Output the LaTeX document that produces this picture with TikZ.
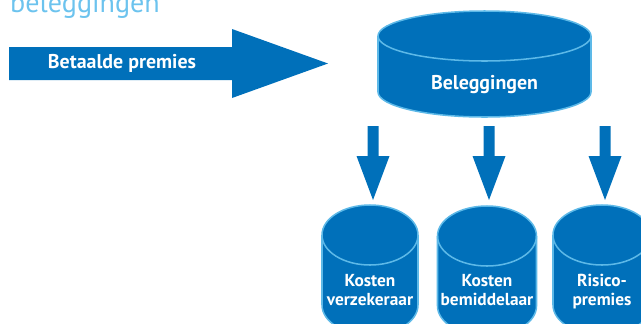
\documentclass[tikz,border=0pt]{standalone}
\usepackage{fontspec}
\setmainfont{PT Sans}
\definecolor{vatblauw}{HTML}{0070BA}
\definecolor{randblauw}{HTML}{5DB9E8}
\definecolor{titelblauw}{HTML}{6CC3EE}
\tikzset{
  vat/.style = {fill=vatblauw, draw=randblauw, line width=1.3pt},% pot met rand
  tekst/.style = {align=center, inner sep=0pt, white,
    font=\bfseries\fontsize{17}{19}\selectfont},
  kleintekst/.style = {tekst, font=\bfseries\fontsize{14.8}{16.2}\selectfont},
  blok/.style = {fill=vatblauw},
  % pot: x-straal, y-straal, hoogte tussen de ellipsen
  pics/pot/.style n args = {3}{code = {
    \filldraw[vat] (-#1,0) -- (-#1,#3)
      arc[start angle=180, end angle=360, x radius=#1*0.03cm, y radius=#2*0.03cm]
      -- (#1,0)
      arc[start angle=0, end angle=180, x radius=#1*0.03cm, y radius=#2*0.03cm]
      -- cycle;
    \draw[vat, fill=none] (-#1,0)
      arc[start angle=180, end angle=360, x radius=#1*0.03cm, y radius=#2*0.03cm];
  }},
  pics/pijl/.style = {code = {
    \fill[blok] (-5.5,0) -- (5.5,0) -- (5.5,30) -- (16.5,30) -- (0,74)
      -- (-16.5,30) -- (-5.5,30) -- cycle;
  }}
}

\begin{document}
\begin{tikzpicture}[x=0.03cm, y=-0.03cm]
\useasboundingbox (0,0) rectangle (641,323);
\clip (0,0) rectangle (641,323);
\node[anchor=base west, inner sep=0pt, titelblauw,
  font=\fontsize{24}{26}\selectfont] (titel) at (10,12.5) {beleggingen};
% grote pijl
\fill[blok] (9,47) -- (232,47) -- (232,29) -- (328,63.5) -- (232,98)
  -- (232,80) -- (9,80) -- cycle;
\node[tekst] (premies) at (122,63) {Betaalde premies};
% potten
\pic (beleg) at (484.5,36) {pot={106.5}{25}{56}};
\node[tekst] (tbeleg) at (484.5,85) {Beleggingen};
\pic (kverz) at (370,235) {pot={48}{30}{70}};
\pic (kbem) at (487,236) {pot={49.5}{30}{70}};
\pic (risico) at (602,235) {pot={49}{30}{70}};
\node[kleintekst] (tverz) at (370,290) {Kosten\\verzekeraar};
\node[kleintekst] (tbem) at (487,290) {Kosten\\bemiddelaar};
\node[kleintekst] (trisico) at (602,292) {Risico-\\premies};
% pijlen naar beneden
\pic at (373,126) {pijl};
\pic at (489,126) {pijl};
\pic at (605,126) {pijl};
\end{tikzpicture}
\end{document}
